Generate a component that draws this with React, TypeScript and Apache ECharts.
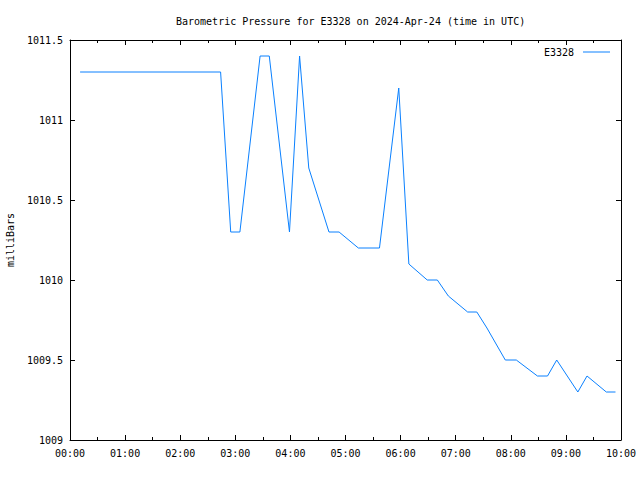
import React, { useEffect, useRef } from "react";
import * as echarts from "echarts";

const times: string[] = [
  "00:11", "02:44", "02:55", "03:05", "03:27", "03:37", "03:59", "04:10", "04:20", "04:42",
  "04:53", "05:14", "05:37", "05:58", "06:09", "06:29", "06:40", "06:52", "07:13", "07:23",
  "07:34", "07:44", "07:54", "08:06", "08:29", "08:40", "08:50", "09:13", "09:23", "09:44", "09:54",
];
const pressure: number[] = [
  1011.3, 1011.3, 1010.3, 1010.3, 1011.4, 1011.4, 1010.3, 1011.4, 1010.7, 1010.3,
  1010.3, 1010.2, 1010.2, 1011.2, 1010.1, 1010.0, 1010.0, 1009.9, 1009.8, 1009.8,
  1009.7, 1009.6, 1009.5, 1009.5, 1009.4, 1009.4, 1009.5, 1009.3, 1009.4, 1009.3, 1009.3,
];
const seriesName = "E3328";
const titleText = "Barometric Pressure for E3328 on 2024-Apr-24 (time in UTC)";
const yAxisName = "milliBars";

const toMin = (t: string) => {
  const [h, m] = t.split(":").map(Number);
  return h * 60 + m;
};
const fmt = (v: number) => {
  const h = Math.floor(v / 60);
  const m = Math.round(v % 60);
  return `${String(h).padStart(2, "0")}:${String(m).padStart(2, "0")}`;
};

const FONT = "DejaVu Sans Mono";

export default function App() {
  const ref = useRef<HTMLDivElement>(null);
  useEffect(() => {
    if (!ref.current) return;
    const chart = echarts.init(ref.current, null, { renderer: "svg" });
    const axisLine = { show: true, onZero: false, lineStyle: { color: "#000", width: 1 } };
    const tick = { show: true, inside: true, length: 5, lineStyle: { color: "#000" } };
    const minor = { show: true, splitNumber: 2, length: 3, lineStyle: { color: "#000" } };
    chart.setOption({
      animation: false,
      backgroundColor: "#fff",
      textStyle: { fontFamily: FONT, fontSize: 10, color: "#000" },
      title: {
        text: titleText,
        left: 171,
        top: 11,
        textStyle: { fontFamily: FONT, fontSize: 10, fontWeight: "normal", color: "#000" },
      },
      legend: {
        data: [seriesName],
        right: 25,
        top: 42,
        align: "right",
        icon: "rect",
        itemWidth: 27,
        itemHeight: 1,
        textStyle: { fontFamily: FONT, fontSize: 10, color: "#000", padding: [0, 4, 0, 0] },
      },
      grid: { left: 70, right: 19, top: 40, bottom: 40, containLabel: false, outerBoundsMode: "none" },
      xAxis: [
        {
          type: "value",
          position: "bottom",
          min: 0,
          max: 600,
          interval: 60,
          axisLine,
          axisTick: tick,
          minorTick: minor,
          splitLine: { show: false },
          axisLabel: {
            formatter: (v: number) => fmt(v),
            fontFamily: FONT,
            fontSize: 10,
            color: "#000",
            margin: 8,
          },
        },
        {
          type: "value",
          position: "top",
          min: 0,
          max: 600,
          interval: 60,
          axisLine,
          axisTick: tick,
          minorTick: minor,
          splitLine: { show: false },
          axisLabel: { show: false },
        },
      ],
      yAxis: [
        {
          type: "value",
          position: "left",
          min: 1009,
          max: 1011.5,
          interval: 0.5,
          axisLine,
          axisTick: tick,
          splitLine: { show: false },
          name: yAxisName,
          nameLocation: "middle",
          nameGap: 55,
          nameRotate: 90,
          nameTextStyle: { fontFamily: FONT, fontSize: 10, color: "#000" },
          axisLabel: {
            fontFamily: FONT,
            fontSize: 10,
            color: "#000",
            margin: 7,
            formatter: (v: number) => String(v),
          },
        },
        {
          type: "value",
          position: "right",
          min: 1009,
          max: 1011.5,
          interval: 0.5,
          axisLine,
          axisTick: tick,
          splitLine: { show: false },
          axisLabel: { show: false },
        },
      ],
      series: [
        {
          name: seriesName,
          type: "line",
          xAxisIndex: 0,
          yAxisIndex: 0,
          showSymbol: false,
          symbol: "none",
          color: "#0a80ff",
          lineStyle: { width: 1, color: "#0a80ff" },
          data: times.map((t, i) => [toMin(t), pressure[i]]),
        },
      ],
    });
    return () => chart.dispose();
  }, []);
  return (
    <div
      ref={ref}
      style={{ position: "fixed", left: 0, top: 0, width: 640, height: 480 }}
    />
  );
}
